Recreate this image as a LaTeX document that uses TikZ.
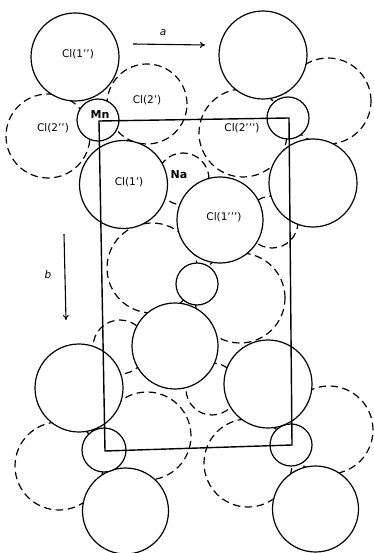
\documentclass[tikz,border=0pt]{standalone}
\usepackage{fontspec}
\setmainfont{DejaVu Sans}
\usetikzlibrary{arrows.meta}
\tikzset{
  solidatom/.style={circle, draw, fill=white, line width=1.2pt, inner sep=0pt, minimum size=#1},
  dashatom/.style={circle, draw, line width=1.2pt, dash pattern=on 7.5pt off 4.5pt, inner sep=0pt, minimum size=#1},
  lbl/.style={font=\fontsize{10.5}{12}\selectfont, inner sep=0pt},
  blbl/.style={font=\fontsize{11}{12}\selectfont\bfseries, inner sep=0pt},
  axis/.style={line width=1.1pt, -{To[length=5pt,width=6pt]}},
  cell/.style={line width=1.4pt, line join=miter}
}
\begin{document}
\begin{tikzpicture}[x=1pt,y=-1pt]
\useasboundingbox (0,0) rectangle (374,553);
% dashed (Cl2 and Na) atoms
\node[dashatom=80pt] (cl2p) at (147,104) {};
\node[dashatom=84pt] (cl2pp) at (48,136) {};
\node[dashatom=52pt] (na) at (183,179) {};
\node[dashatom=88pt] (cl2ppp) at (243,133) {};
\node[dashatom=86pt] (dtr) at (328,101) {};
\node[dashatom=52pt] (na2) at (272,222) {};
\node[dashatom=90pt] (dml) at (152,268) {};
\node[dashatom=90pt] (dmr) at (240,298) {};
\node[dashatom=54pt] (na3) at (120,347) {};
\node[dashatom=52pt] (na4) at (212,389) {};
\node[dashatom=88pt] (dll) at (147,436) {};
\node[dashatom=88pt] (dlr) at (329,430) {};
\node[dashatom=88pt] (dbl) at (59,466) {};
\node[dashatom=88pt] (dbr) at (248,463) {};
% solid atoms
\node[solidatom=88pt] (cl1pp) at (75,57) {};
\node[solidatom=88pt] (cltr) at (263,55) {};
\node[solidatom=88pt] (cl1p) at (123.5,184.5) {};
\node[solidatom=88pt] (clr) at (313,183) {};
\node[solidatom=86pt] (cl1ppp) at (220,220) {};
\node[solidatom=86pt] (clc) at (175,346) {};
\node[solidatom=88pt] (cll) at (79,388) {};
\node[solidatom=88pt] (clrr) at (268,384) {};
\node[solidatom=86pt] (clbl) at (125.5,511) {};
\node[solidatom=86pt] (clbr) at (315.5,509) {};
\node[solidatom=42pt] (mn) at (98,120) {};
\node[solidatom=42pt] (mn2) at (288,118) {};
\node[solidatom=42pt] (mn3) at (197,284) {};
\node[solidatom=44pt] (mn4) at (104,450) {};
\node[solidatom=42pt] (mn5) at (291,445) {};
% unit cell
\coordinate (c1) at (99,121);
\coordinate (c2) at (289,118);
\coordinate (c3) at (292,445);
\coordinate (c4) at (105,451);
\draw[cell] (c1) -- (c2) -- (c3) -- (c4) -- cycle;
% labels
\node[lbl] (t1) at (78,54) {Cl(1’’)};
\node[lbl] (t2) at (147,100) {Cl(2’)};
\node[lbl] (t3) at (53,128) {Cl(2’’)};
\node[blbl] (t4) at (100,114) {Mn};
\node[blbl] (t5) at (179,175) {Na};
\node[lbl] (t6) at (129,182) {Cl(1’)};
\node[lbl] (t7) at (224,217) {Cl(1’’’)};
\node[lbl] (t8) at (242,128) {Cl(2’’’)};
% axes
\coordinate (a1) at (133,44);
\coordinate (a2) at (205,45);
\draw[axis] (a1) -- (a2);
\node[lbl, font=\fontsize{10.5}{12}\selectfont\itshape] (ta) at (163,33) {a};
\coordinate (b1) at (64,234);
\coordinate (b2) at (66,320);
\draw[axis] (b1) -- (b2);
\node[lbl, font=\fontsize{10.5}{12}\selectfont\itshape] (tb) at (48,275) {b};
\end{tikzpicture}
\end{document}
